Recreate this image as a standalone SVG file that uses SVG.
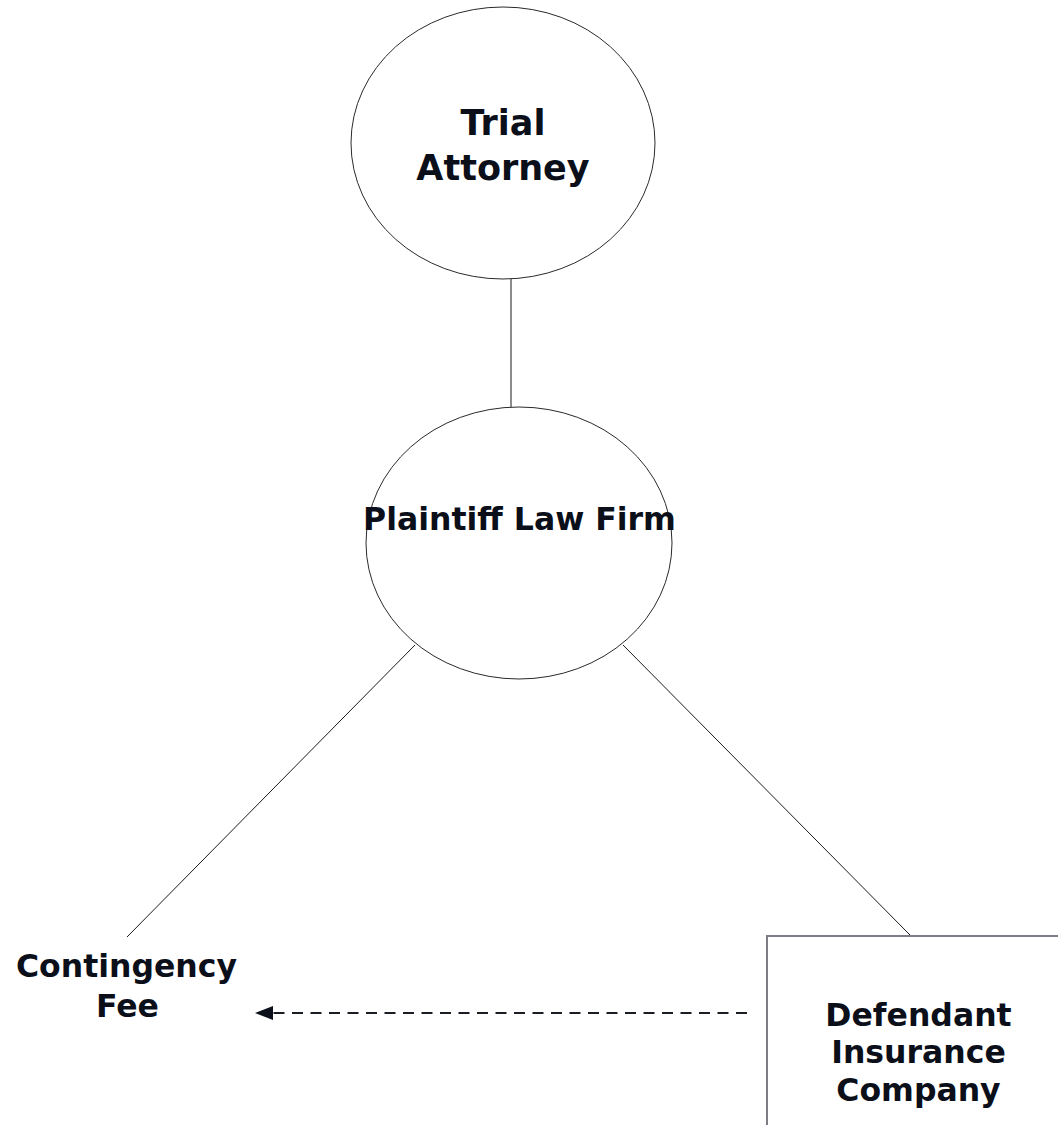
<svg xmlns="http://www.w3.org/2000/svg" width="1058" height="1125" viewBox="0 0 1058 1125">
  <defs>
    <style>
      .lbl { font-family: "DejaVu Sans", Verdana, sans-serif; font-weight: bold; fill: #0b0f19; text-anchor: middle; }
      .shape { fill: #ffffff; stroke: #2a2a2e; stroke-width: 1; }
      .box { fill: #ffffff; stroke: #7d7d85; stroke-width: 2; }
      .conn { fill: none; stroke: #1a1a1e; stroke-width: 1; }
      .dash { fill: none; stroke: #1a1d24; stroke-width: 2; stroke-dasharray: 11 7.5; }
    </style>
    <marker id="arrow" markerWidth="10" markerHeight="8" refX="0" refY="4" orient="auto" markerUnits="userSpaceOnUse" viewBox="0 0 10 8">
      <path d="M10,0 L0,4 L10,8 Z" fill="#0b0f19"/>
    </marker>
  </defs>
  <rect width="1058" height="1125" fill="#ffffff"/>

  <g id="connectors">
    <line class="conn" x1="511" y1="279" x2="511" y2="407"/>
    <line class="conn" x1="415" y1="645" x2="127" y2="937"/>
    <line class="conn" x1="623" y1="645" x2="910" y2="935"/>
    <line class="dash" x1="747" y1="1013" x2="272" y2="1013"/>
    <path d="M255,1013 L273,1006 L273,1020 Z" fill="#0b0f19"/>
  </g>

  <g id="trial-attorney">
    <ellipse class="shape" cx="503" cy="143" rx="152" ry="136"/>
    <text class="lbl" x="503" y="135" font-size="35">Trial</text>
    <text class="lbl" x="503" y="180" font-size="35">Attorney</text>
  </g>

  <g id="plaintiff-law-firm">
    <ellipse class="shape" cx="519" cy="543" rx="153" ry="136"/>
    <text class="lbl" x="519.5" y="530" font-size="31.5">Plaintiff Law Firm</text>
  </g>

  <g id="contingency-fee">
    <text class="lbl" x="126.5" y="977" font-size="31.5">Contingency</text>
    <text class="lbl" x="127.5" y="1017" font-size="31.5">Fee</text>
  </g>

  <g id="defendant-insurance-company">
    <rect class="box" x="767" y="936" width="320" height="220"/>
    <text class="lbl" x="918.5" y="1026" font-size="31.5">Defendant</text>
    <text class="lbl" x="918.5" y="1063" font-size="31.5">Insurance</text>
    <text class="lbl" x="918.5" y="1101" font-size="31.5">Company</text>
  </g>
</svg>
